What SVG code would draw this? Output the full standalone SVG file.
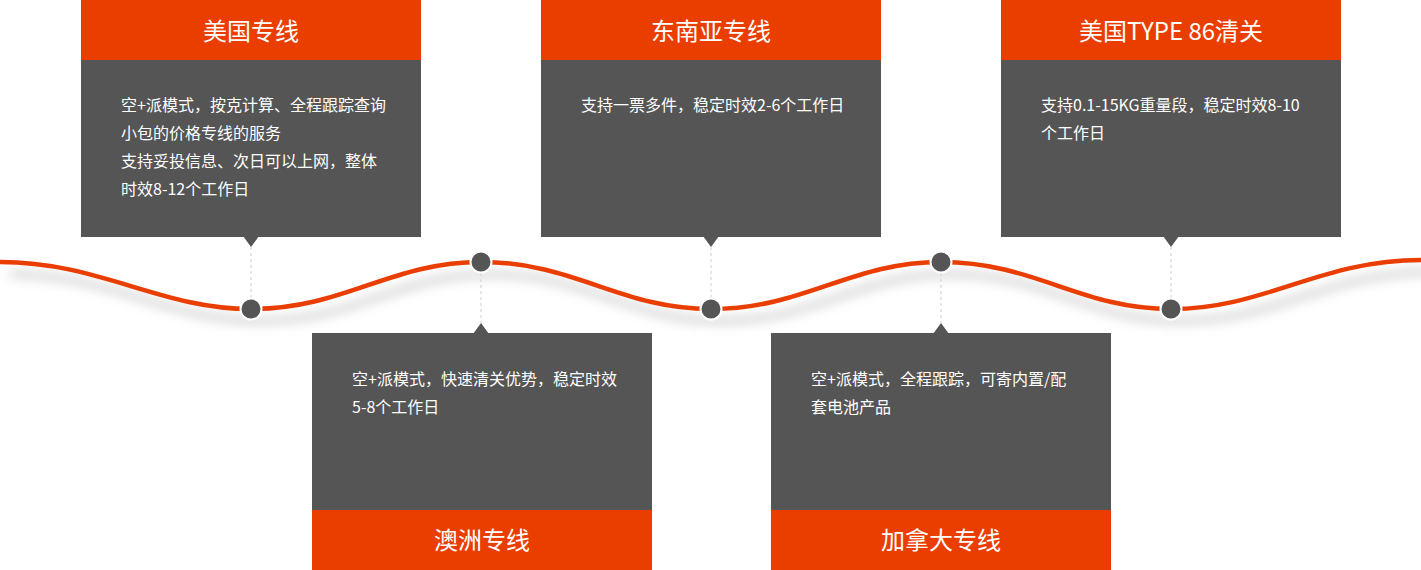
<svg xmlns="http://www.w3.org/2000/svg" width="1421" height="570" viewBox="0 0 1421 570">
<defs>
<style>
.hd{fill:#EA3D00}
.bd{fill:#555555}
.ht{fill:#ffffff;font-family:"Noto Sans CJK SC","Noto Sans",sans-serif;font-size:24px;text-anchor:middle}
.bt{fill:#ffffff;font-family:"Noto Sans CJK SC","Noto Sans",sans-serif;font-size:16px}
.dash{stroke:#cfcfcf;stroke-width:1;stroke-dasharray:3 3;fill:none}
.dot{fill:#555555;stroke:#ffffff;stroke-width:2}
</style>
<filter id="sh" x="-5%" y="-50%" width="110%" height="250%">
<feGaussianBlur stdDeviation="6"/>
</filter>
</defs>
<g id="connectors">
<path d="M0,262 C100,262 160,309 251,309 C345,309 390,262 481,262 C575,262 620,309 711,309 C805,309 850,262 941,262 C1035,262 1080,309 1171,309 C1265,309 1320,260 1421,260" fill="none" stroke="#000" stroke-opacity="0.2" stroke-width="6" transform="translate(10,12)" filter="url(#sh)"/>
<path d="M0,262 C100,262 160,309 251,309 C345,309 390,262 481,262 C575,262 620,309 711,309 C805,309 850,262 941,262 C1035,262 1080,309 1171,309 C1265,309 1320,260 1421,260" fill="none" stroke="#EA3D00" stroke-width="4.5" stroke-linecap="round"/>
<line class="dash" x1="251" y1="247" x2="251" y2="298"/>
<line class="dash" x1="711" y1="247" x2="711" y2="298"/>
<line class="dash" x1="1171" y1="247" x2="1171" y2="298"/>
<line class="dash" x1="481" y1="273" x2="481" y2="323"/>
<line class="dash" x1="941" y1="273" x2="941" y2="323"/>
<circle class="dot" cx="251" cy="309" r="10.5"/>
<circle class="dot" cx="481" cy="262" r="10.5"/>
<circle class="dot" cx="711" cy="309" r="10.5"/>
<circle class="dot" cx="941" cy="262" r="10.5"/>
<circle class="dot" cx="1171" cy="309" r="10.5"/>
</g>
<g id="node-us">
<rect class="hd" x="81" y="0" width="340" height="60"/>
<rect class="bd" x="81" y="60" width="340" height="177"/>
<polygon class="bd" points="243,236 259,236 251,247"/>
<text class="ht" x="251" y="40">美国专线</text>
<text class="bt" x="121" y="111">空+派模式，按克计算、全程跟踪查询</text>
<text class="bt" x="121" y="139">小包的价格专线的服务</text>
<text class="bt" x="121" y="167">支持妥投信息、次日可以上网，整体</text>
<text class="bt" x="121" y="195">时效8-12个工作日</text>
</g>
<g id="node-sea">
<rect class="hd" x="541" y="0" width="340" height="60"/>
<rect class="bd" x="541" y="60" width="340" height="177"/>
<polygon class="bd" points="703,236 719,236 711,247"/>
<text class="ht" x="711" y="40">东南亚专线</text>
<text class="bt" x="581" y="111">支持一票多件，稳定时效2-6个工作日</text>
</g>
<g id="node-type86">
<rect class="hd" x="1001" y="0" width="340" height="60"/>
<rect class="bd" x="1001" y="60" width="340" height="177"/>
<polygon class="bd" points="1163,236 1179,236 1171,247"/>
<text class="ht" x="1171" y="40">美国TYPE 86清关</text>
<text class="bt" x="1041" y="111">支持0.1-15KG重量段，稳定时效8-10</text>
<text class="bt" x="1041" y="139">个工作日</text>
</g>
<g id="node-au">
<rect class="bd" x="312" y="333" width="340" height="177"/>
<rect class="hd" x="312" y="510" width="340" height="60"/>
<polygon class="bd" points="473,334 489,334 481,323"/>
<text class="bt" x="352" y="385">空+派模式，快速清关优势，稳定时效</text>
<text class="bt" x="352" y="413">5-8个工作日</text>
<text class="ht" x="482" y="549">澳洲专线</text>
</g>
<g id="node-ca">
<rect class="bd" x="771" y="333" width="340" height="177"/>
<rect class="hd" x="771" y="510" width="340" height="60"/>
<polygon class="bd" points="933,334 949,334 941,323"/>
<text class="bt" x="811" y="385">空+派模式，全程跟踪，可寄内置/配</text>
<text class="bt" x="811" y="413">套电池产品</text>
<text class="ht" x="941" y="549">加拿大专线</text>
</g>
</svg>
